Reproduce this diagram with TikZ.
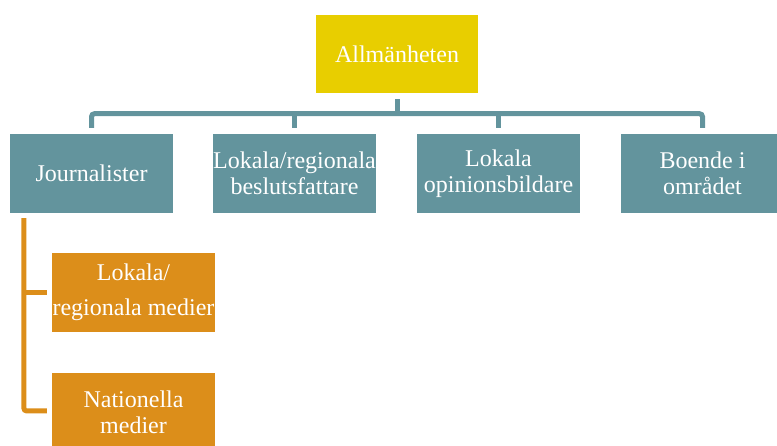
\documentclass[tikz,border=0pt]{standalone}
\usepackage{fontspec}
\setmainfont{Liberation Serif}
\definecolor{gul}{RGB}{232,206,0}
\definecolor{blagron}{RGB}{99,148,157}
\definecolor{orange}{RGB}{220,142,26}
\tikzset{
    ruta/.style={minimum width=163pt, minimum height=79pt, inner sep=0pt, text=white, align=center,
        font=\fontsize{24}{26.5}\selectfont},
    gulruta/.style={ruta, fill=gul, minimum width=162pt, minimum height=78pt},
    bgruta/.style={ruta, fill=blagron},
    orruta/.style={ruta, fill=orange},
    bglinje/.style={draw=blagron, line width=5pt, rounded corners=3pt},
    orlinje/.style={draw=orange, line width=5pt, rounded corners=3pt}
}
\begin{document}
\begin{tikzpicture}[x=1pt, y=-1pt]
        \useasboundingbox (0, 0) rectangle (777, 446);
        \node[gulruta] (allm) at (397, 54) {Allmänheten};
        \node[bgruta] (journ) at (91.5, 173.5) {Journalister};
        \node[bgruta] (besl) at (294.5, 173.5) {Lokala/regionala\\beslutsfattare};
        \node[bgruta] (opin) at (498.5, 173.5) {Lokala\\opinionsbildare};
        \node[bgruta] (boende) at (702.5, 173.5) {Boende i\\området};
        \node[orruta] (lokmed) at (133.5, 292.5) {Lokala/\\[8pt]regionala medier};
        \node[orruta] (natmed) at (133.5, 412.5) {Nationella\\medier};
        % tradet upptill
        \coordinate (buss) at ([yshift=-20.5pt]allm.south);
        \draw[bglinje] ([yshift=-6pt]allm.south) -- (buss);
        \draw[bglinje] ([yshift=6pt]journ.north) |- (buss) -| ([yshift=6pt]boende.north);
        \draw[bglinje] ([yshift=6pt]besl.north) -- (besl.north |- buss);
        \draw[bglinje] ([yshift=6pt]opin.north) -- (opin.north |- buss);
        % medier
        \coordinate (rygg) at ([xshift=-28pt, yshift=-5pt]lokmed.west |- journ.south);
        \draw[orlinje] (rygg) |- ([xshift=-5pt, yshift=1.5pt]natmed.west);
        \draw[orlinje] (rygg |- lokmed.west) -- ([xshift=-5pt]lokmed.west);
    \end{tikzpicture}
\end{document}
